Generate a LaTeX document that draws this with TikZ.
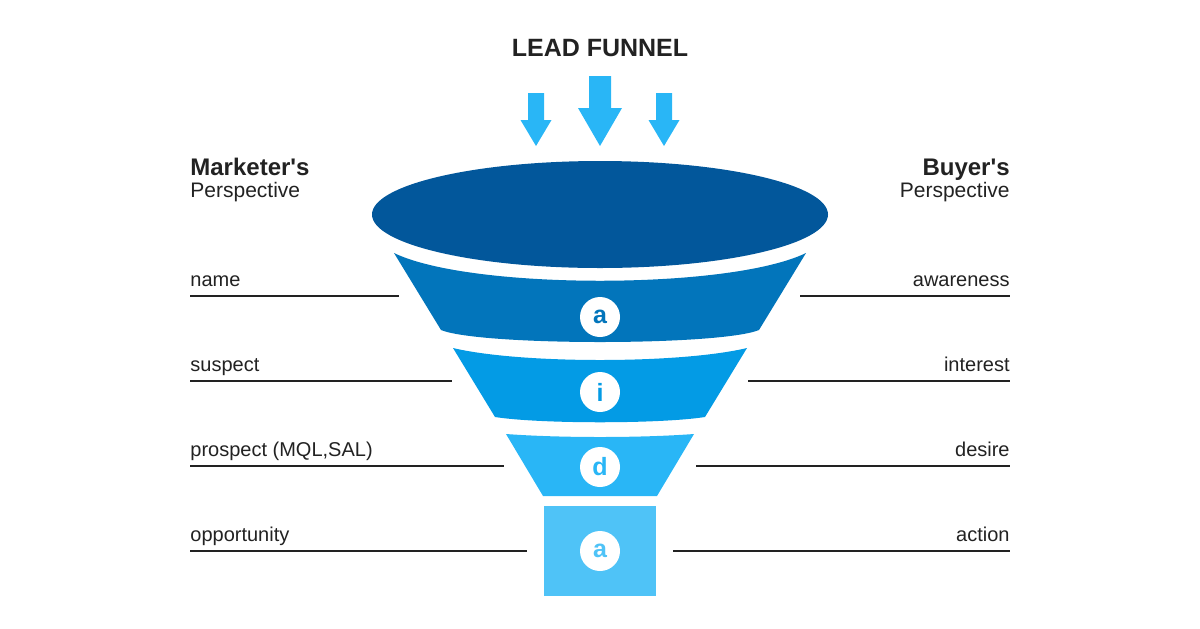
\documentclass[tikz,border=0pt]{standalone}
\usepackage{fontspec}
\setmainfont{Liberation Sans}
\usepackage{xcolor}
\usetikzlibrary{positioning,shapes.geometric}

\definecolor{inkdark}{RGB}{34,34,34}
\definecolor{mouthblue}{RGB}{2,87,155}
\definecolor{bandA}{RGB}{2,117,187}
\definecolor{bandI}{RGB}{3,155,229}
\definecolor{bandD}{RGB}{41,182,246}
\definecolor{bandX}{RGB}{79,195,247}

\tikzset{
  lbl/.style={font=\fontsize{10}{12}\selectfont, text=inkdark, inner sep=0pt},
  head/.style={font=\bfseries\fontsize{12}{14}\selectfont, text=inkdark, inner sep=0pt},
  leader/.style={draw=inkdark, line width=1.4pt},
  badge/.style={circle, fill=white, minimum size=20pt, inner sep=0pt, font=\bfseries\fontsize{12.5}{12.5}\selectfont},
}

\begin{document}
\begin{tikzpicture}[x=0.5pt,y=-0.5pt]
\useasboundingbox (0,0) rectangle (1200,628);

% title and falling arrows
\node[head, font=\bfseries\fontsize{12.5}{14}\selectfont, anchor=base] (title) at (600,56) {LEAD FUNNEL};
\foreach \cx/\ty/\sw/\hw/\hy in {536/93/8/15.5/120, 600/76/11/22/108, 664/93/8/15.5/120}{
  \fill[bandD] (\cx-\sw,\ty) -- (\cx+\sw,\ty) -- (\cx+\sw,\hy) -- (\cx+\hw,\hy)
    -- (\cx,146) -- (\cx-\hw,\hy) -- (\cx-\sw,\hy) -- cycle;
}

% funnel
\node[ellipse, fill=mouthblue, minimum width=228pt, minimum height=53.5pt, inner sep=0pt] (mouth) at (600,214.5) {};
\fill[bandA] (394,253) .. controls (470,290) and (730,290) .. (806,253)
  -- (759,330) .. controls (720,346) and (480,346) .. (441,330) -- cycle;
\fill[bandI] (453,348) .. controls (520,364) and (680,364) .. (747,348)
  -- (705,417) .. controls (660,424) and (540,424) .. (495,417) -- cycle;
\fill[bandD] (506,434) .. controls (560,438) and (640,438) .. (694,434)
  -- (657,496) -- (543,496) -- cycle;
\node[rectangle, fill=bandX, minimum width=56pt, minimum height=45pt, inner sep=0pt] (neck) at (600,551) {};

\node[badge, text=bandA] (bA) at (600,317) {a};
\node[badge, text=bandI] (bI) at (600,392) {i};
\node[badge, text=bandD] (bD) at (600,467) {d};
\node[badge, text=bandX] (bX) at (600,551) {a};

% perspectives
\node[head, anchor=base west] (mkt) at (190,175) {Marketer\textquotesingle s};
\node[lbl, font=\fontsize{10.5}{12}\selectfont, anchor=base west] (mktsub) at (190,197) {Perspective};
\node[head, anchor=base east] (buy) at (1010,175) {Buyer\textquotesingle s};
\node[lbl, font=\fontsize{10.5}{12}\selectfont, anchor=base east] (buysub) at (1010,197) {Perspective};

% stage labels with leader lines
\foreach \k/\ly/\lt/\lx/\rx/\rt in {1/296/name/399/800/awareness,
    2/381/suspect/452/748/interest,
    3/466/{prospect (MQL,SAL)}/504/696/desire,
    4/551/opportunity/527/673/action}{
  \node[lbl, anchor=base west] (L\k) at (190,\ly-10) {\lt};
  \node[lbl, anchor=base east] (R\k) at (1010,\ly-10) {\rt};
  \coordinate (La\k) at (190,\ly);
  \coordinate (Lb\k) at (\lx,\ly);
  \coordinate (Ra\k) at (\rx,\ly);
  \coordinate (Rb\k) at (1010,\ly);
  \draw[leader] (La\k) -- (Lb\k);
  \draw[leader] (Ra\k) -- (Rb\k);
}
\end{tikzpicture}
\end{document}
